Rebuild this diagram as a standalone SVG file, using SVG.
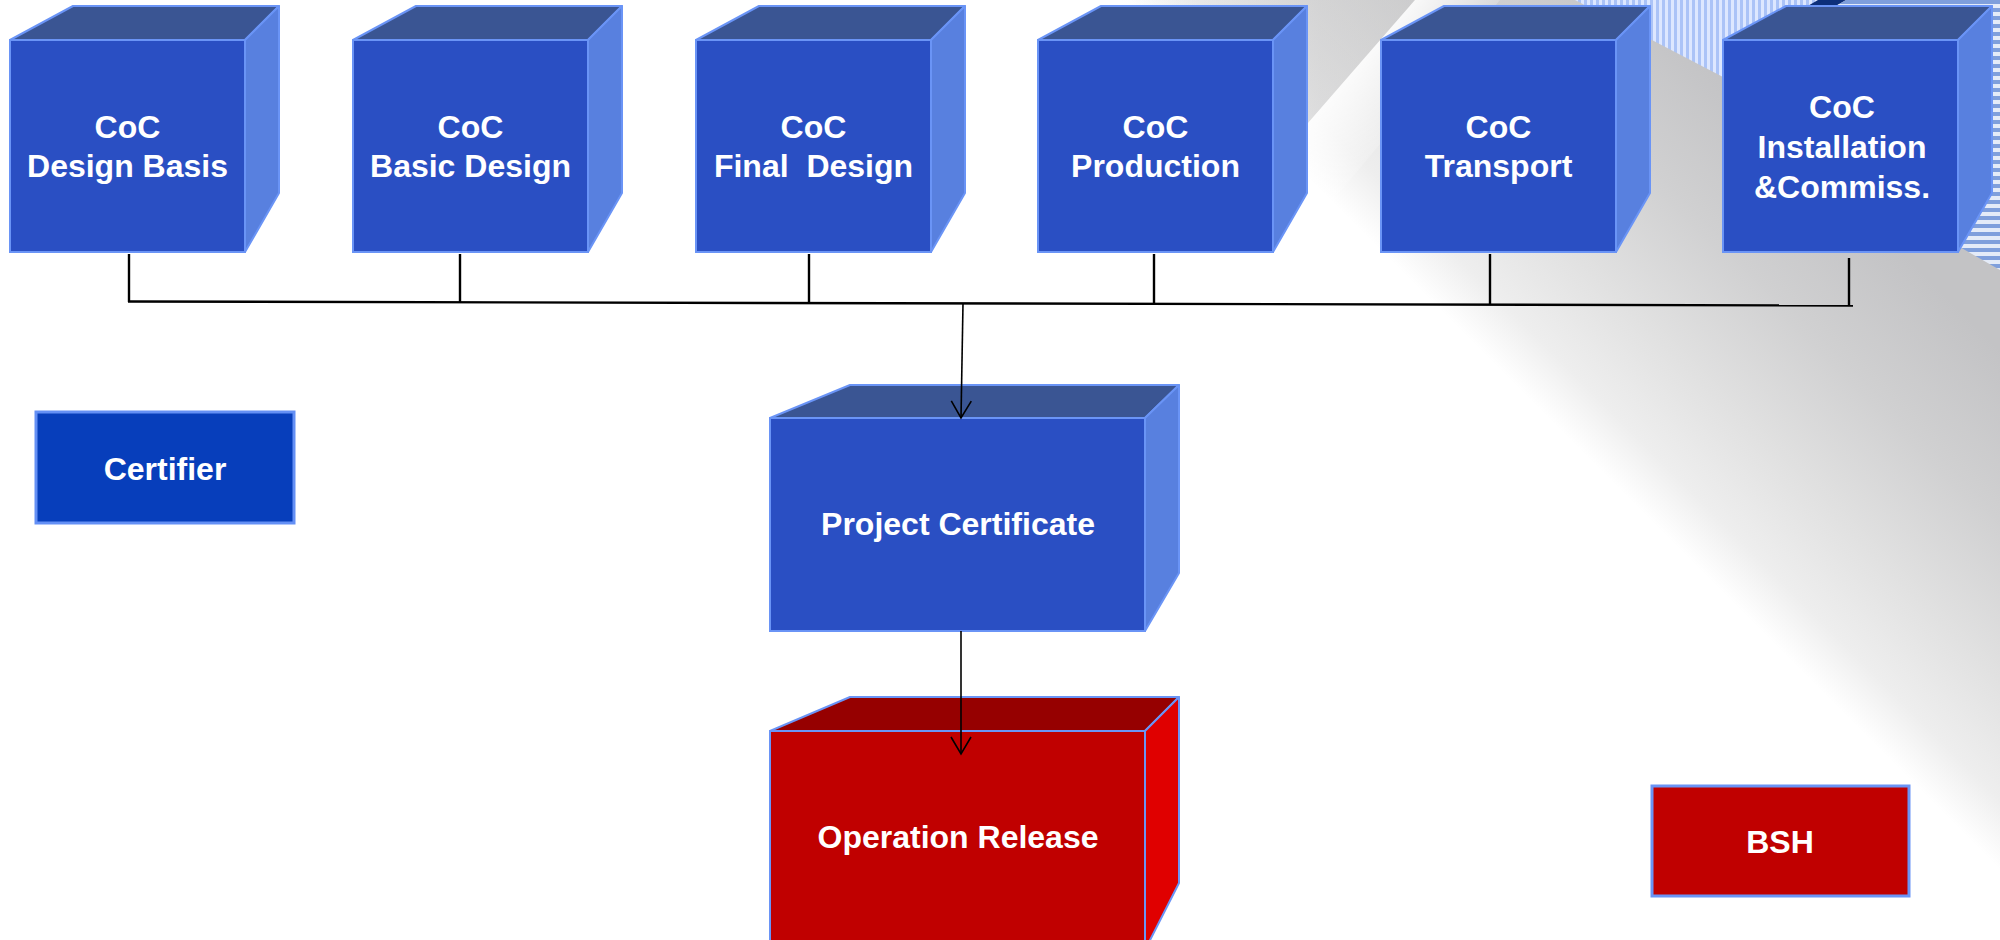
<svg xmlns="http://www.w3.org/2000/svg" xmlns:xlink="http://www.w3.org/1999/xlink" width="2000" height="940" viewBox="0 0 2000 940">
  <style>
    .front { fill: #2a4fc3; stroke: #6a94f6; stroke-width: 2; }
    .top { fill: #3a5593; stroke: #6a94f6; stroke-width: 2; stroke-linejoin: round; }
    .side { fill: #5880df; stroke: #6a94f6; stroke-width: 2; stroke-linejoin: round; }
    .rfront { fill: #c00000; stroke: #6a94f6; stroke-width: 2; }
    .rtop { fill: #960000; stroke: #6a94f6; stroke-width: 2; stroke-linejoin: round; }
    .rside { fill: #e00000; stroke: #6a94f6; stroke-width: 2; stroke-linejoin: round; }
    .lbl { font-family: "Liberation Sans", Arial, Helvetica, sans-serif; font-weight: bold; font-size: 32px; fill: #ffffff; text-anchor: middle; }
    .wire { stroke: #000000; stroke-width: 2.4; fill: none; }
    .flow { stroke: #000000; stroke-width: 1.6; fill: none; marker-end: url(#open-arrow); }
  </style>
  <defs>
    <!-- grey shading rising towards the upper right corner -->
    <linearGradient id="bg-shade" gradientUnits="userSpaceOnUse" x1="1380" y1="250" x2="1640" y2="-10">
      <stop offset="0" stop-color="#ffffff"/>
      <stop offset="0.135" stop-color="#eeeeee"/>
      <stop offset="0.385" stop-color="#e0e0e0"/>
      <stop offset="0.673" stop-color="#d0d0d1"/>
      <stop offset="1" stop-color="#c3c3c5"/>
    </linearGradient>
    <linearGradient id="band-dark" gradientUnits="userSpaceOnUse" x1="1120" y1="0" x2="1320" y2="0">
      <stop offset="0" stop-color="#b4b4b6" stop-opacity="0"/>
      <stop offset="1" stop-color="#b4b4b6" stop-opacity="0.3"/>
    </linearGradient>
    <linearGradient id="band-light" gradientUnits="userSpaceOnUse" x1="1415" y1="0" x2="1480" y2="56">
      <stop offset="0" stop-color="#ffffff" stop-opacity="0.85"/>
      <stop offset="1" stop-color="#ffffff" stop-opacity="0"/>
    </linearGradient>
    <pattern id="vstripes" width="6" height="10" patternUnits="userSpaceOnUse">
      <rect width="6" height="10" fill="#dde7ff"/>
      <rect width="3" height="10" fill="#abc3f7"/>
    </pattern>
    <pattern id="hstripes" width="10" height="8" patternUnits="userSpaceOnUse">
      <rect width="10" height="8" fill="#e4ebf8"/>
      <rect width="10" height="4" fill="#7f9fdc"/>
    </pattern>
    <marker id="open-arrow" markerUnits="userSpaceOnUse" markerWidth="24" markerHeight="24" refX="20" refY="12" orient="auto" overflow="visible">
      <path d="M3,2 L20,12 L3,22" fill="none" stroke="#000000" stroke-width="1.6"/>
    </marker>
    <!-- standard block: front 235 x 212 with top and right faces -->
    <g id="block">
      <polygon class="top" points="0,0 63,-34 269,-34 235,0"/>
      <polygon class="side" points="235,0 269,-34 269,153 235,212"/>
      <rect class="front" x="0" y="0" width="235" height="212"/>
    </g>
  </defs>

  <!-- background -->
  <g id="background">
    <rect width="2000" height="940" fill="#ffffff"/>
    <rect width="2000" height="940" fill="url(#bg-shade)"/>
    <polygon points="1100,0 1415,0 1196,252 1100,252" fill="url(#band-dark)"/>
    <polygon points="1415,0 1196,252 1290,252 1500,0" fill="url(#band-light)"/>
    <polygon points="1575,0 1830,0 1830,100 1723,77" fill="url(#vstripes)"/>
    <polygon points="1806,7 1818,0 1846,0 1834,7" fill="#0d2f7a"/>
    <polygon points="1846,0 2000,0 2000,270 1958,246 1958,7 1834,7" fill="url(#hstripes)"/>
  </g>

  <g id="coc-design-basis" transform="translate(10,40)">
    <use xlink:href="#block"/>
    <text class="lbl" x="117.5" y="98">CoC</text>
    <text class="lbl" x="117.5" y="137">Design Basis</text>
  </g>
  <g id="coc-basic-design" transform="translate(353,40)">
    <use xlink:href="#block"/>
    <text class="lbl" x="117.5" y="98">CoC</text>
    <text class="lbl" x="117.5" y="137">Basic Design</text>
  </g>
  <g id="coc-final-design" transform="translate(696,40)">
    <use xlink:href="#block"/>
    <text class="lbl" x="117.5" y="98">CoC</text>
    <text class="lbl" x="117.5" y="137" xml:space="preserve" style="white-space:pre">Final  Design</text>
  </g>
  <g id="coc-production" transform="translate(1038,40)">
    <use xlink:href="#block"/>
    <text class="lbl" x="117.5" y="98">CoC</text>
    <text class="lbl" x="117.5" y="137">Production</text>
  </g>
  <g id="coc-transport" transform="translate(1381,40)">
    <use xlink:href="#block"/>
    <text class="lbl" x="117.5" y="98">CoC</text>
    <text class="lbl" x="117.5" y="137">Transport</text>
  </g>
  <g id="coc-installation" transform="translate(1723,40)">
    <use xlink:href="#block"/>
    <text class="lbl" x="119" y="78">CoC</text>
    <text class="lbl" x="119" y="118">Installation</text>
    <text class="lbl" x="119" y="158">&amp;Commiss.</text>
  </g>

  <g id="certifier">
    <rect x="36" y="412" width="258" height="111" fill="#073ebb" stroke="#6490f5" stroke-width="3"/>
    <text class="lbl" x="165" y="480">Certifier</text>
  </g>

  <g id="project-certificate">
    <polygon class="top" points="770,418 850,385 1179,385 1145,418"/>
    <polygon class="side" points="1145,418 1179,385 1179,573 1145,631"/>
    <rect class="front" x="770" y="418" width="375" height="213"/>
    <text class="lbl" x="958" y="535">Project Certificate</text>
  </g>

  <g id="operation-release">
    <polygon class="rtop" points="770,731 850,697 1179,697 1145,731"/>
    <polygon class="rside" points="1145,731 1179,697 1179,883 1145,950"/>
    <rect class="rfront" x="770" y="731" width="375" height="220"/>
    <text class="lbl" x="958" y="848">Operation Release</text>
  </g>

  <g id="bsh">
    <rect x="1652" y="786" width="257" height="110" fill="#c00000" stroke="#6a94f6" stroke-width="3"/>
    <text class="lbl" x="1780" y="853">BSH</text>
  </g>

  <g id="connectors">
    <line class="wire" x1="128" y1="301.5" x2="1853" y2="305.5"/>
    <line class="wire" x1="129" y1="254" x2="129" y2="302"/>
    <line class="wire" x1="460" y1="254" x2="460" y2="302.5"/>
    <line class="wire" x1="809" y1="254" x2="809" y2="303.5"/>
    <line class="wire" x1="1154" y1="254" x2="1154" y2="304"/>
    <line class="wire" x1="1490" y1="254" x2="1490" y2="305"/>
    <line class="wire" x1="1849" y1="258" x2="1849" y2="305.5"/>
    <line class="flow" x1="963" y1="303.5" x2="961" y2="418"/>
    <line class="flow" x1="961" y1="631" x2="961" y2="754"/>
  </g>
</svg>
